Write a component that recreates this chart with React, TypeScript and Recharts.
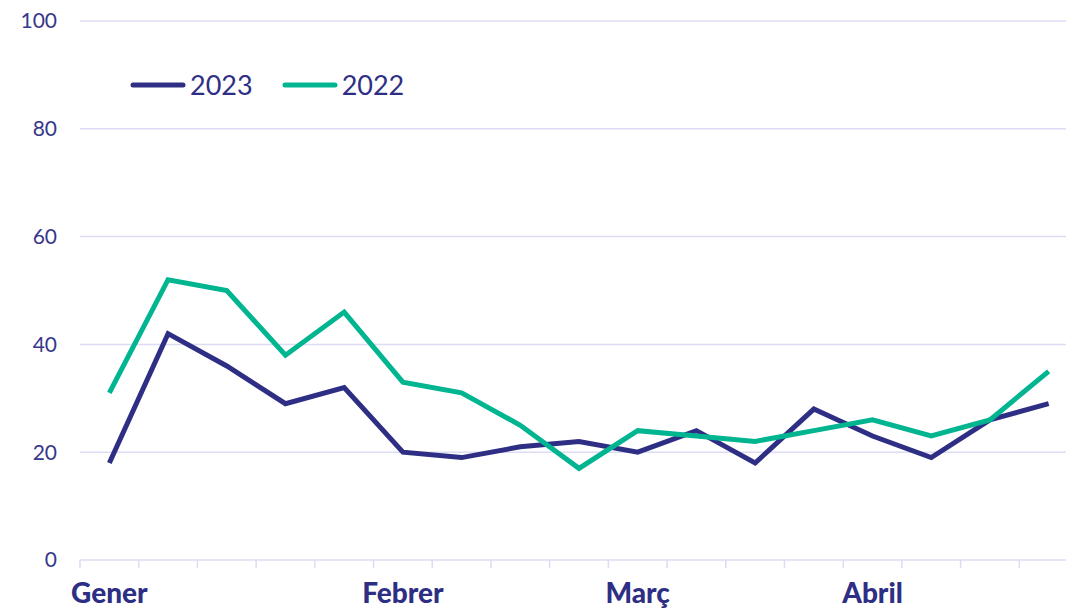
import { CartesianGrid, Legend, Line, LineChart, XAxis, YAxis } from 'recharts'

const NAVY = '#2e2f84'
const GREEN = '#00b590'
const GRID = '#dcdcf4'
const TEXT = '#37378b'
const FONT = 'Lato, "Open Sans", sans-serif'

// weekly points, Jan-Apr
const WEEKS = [0, 1, 2, 3, 4, 5, 6, 7, 8, 9, 10, 11, 12, 13, 14, 15, 16]
const VALUES_2023 = [18, 42, 36, 29, 32, 20, 19, 21, 22, 20, 24, 18, 28, 23, 19, 26, 29]
const VALUES_2022 = [31, 52, 50, 38, 46, 33, 31, 25, 17, 24, 23, 22, 24, 26, 23, 26, 35]
const MONTH_LABELS: Record<number, string> = { 0: 'Gener', 5: 'Febrer', 9: 'Març', 13: 'Abril' }
const Y_TICKS = [0, 20, 40, 60, 80, 100]
const LEGEND_ORDER = ['2023', '2022']

const data = WEEKS.map((w, i) => ({ week: w, y2023: VALUES_2023[i], y2022: VALUES_2022[i] }))

// tick marks sit between weeks, month names sit on the week itself
const boundaryTicks = [...WEEKS.map((w) => w - 0.5), WEEKS[WEEKS.length - 1] + 0.5]
const xTicks = [...boundaryTicks, ...Object.keys(MONTH_LABELS).map(Number)].sort((a, b) => a - b)

function WeekTick(props: any) {
  const { x, y, payload } = props
  const v = payload.value
  if (!Number.isInteger(v)) {
    return <line x1={x} x2={x} y1={y - 8} y2={y} stroke={GRID} strokeWidth={1.5} />
  }
  return (
    <text x={x} y={y + 35} textAnchor="middle" fill={NAVY} fontFamily={FONT} fontWeight={900} fontSize={28}>
      {MONTH_LABELS[v]}
    </text>
  )
}

function LegendContent(props: any) {
  const items = [...(props.payload || [])].sort(
    (a: any, b: any) => LEGEND_ORDER.indexOf(a.value) - LEGEND_ORDER.indexOf(b.value),
  )
  return (
    <div style={{ display: 'flex', gap: 29, alignItems: 'center', fontFamily: FONT, fontSize: 27, color: NAVY }}>
      {items.map((item: any) => (
        <div key={item.value} style={{ display: 'flex', alignItems: 'center', gap: 4 }}>
          <svg width={56} height={8}>
            <line x1={3} x2={53} y1={4} y2={4} stroke={item.color} strokeWidth={5} strokeLinecap="round" />
          </svg>
          <span>{item.value}</span>
        </div>
      ))}
    </div>
  )
}

export default function App() {
  return (
    <div style={{ position: 'absolute', left: 0, top: 0, width: 1066, height: 609, overflow: 'hidden', background: '#fff' }}>
      <LineChart width={1090} height={609} data={data} margin={{ top: 21, right: 12, bottom: 0, left: 0 }}>
        <CartesianGrid vertical={false} stroke={GRID} strokeWidth={1.5} />
        <XAxis
          dataKey="week"
          type="number"
          domain={[-0.5, 16.5]}
          ticks={xTicks}
          interval={0}
          height={49}
          axisLine={false}
          tickLine={false}
          tickSize={8}
          tickMargin={0}
          tick={<WeekTick />}
        />
        <YAxis
          domain={[0, 100]}
          ticks={Y_TICKS}
          width={80}
          axisLine={false}
          tickLine={false}
          tickSize={0}
          tickMargin={23}
          tick={{ fill: TEXT, fontSize: 21, fontFamily: FONT }}
        />
        <Legend
          layout="horizontal"
          verticalAlign="middle"
          align="center"
          wrapperStyle={{ top: 68, left: 130, width: 'auto' }}
          content={<LegendContent />}
        />
        <Line dataKey="y2023" name="2023" stroke={NAVY} strokeWidth={5} dot={false} isAnimationActive={false} />
        <Line dataKey="y2022" name="2022" stroke={GREEN} strokeWidth={5} dot={false} isAnimationActive={false} />
      </LineChart>
    </div>
  )
}
